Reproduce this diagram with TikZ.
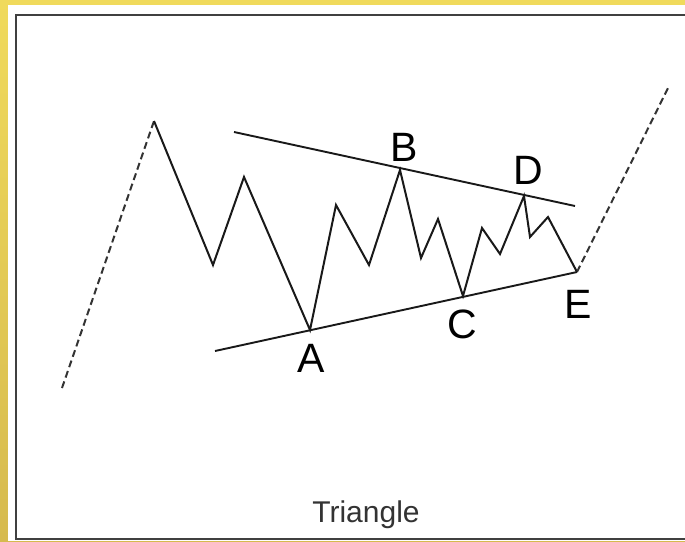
\documentclass[tikz,border=0pt]{standalone}
\usepackage{fontspec}
\setmainfont{Liberation Sans}
\usepackage{xcolor}
\usetikzlibrary{positioning}

\definecolor{goldbg}{RGB}{214,186,78}
\definecolor{goldlight}{RGB}{240,218,92}
\definecolor{framegray}{RGB}{64,64,64}

\begin{document}
\begin{tikzpicture}[x=1pt, y=-1pt,
  wave/.style={line width=2pt, draw=black!90, line join=miter},
  trend/.style={line width=1.9pt, draw=black!90},
  breakout/.style={line width=2pt, draw=black!80, dash pattern=on 7pt off 4pt},
  ptlabel/.style={font=\fontsize{41}{42}\selectfont, text=black, inner sep=0pt},
  caption/.style={font=\fontsize{30}{31}\selectfont, text=black!80, inner sep=0pt}
]
\useasboundingbox (0,0) rectangle (685,541);

% golden background and white panel
\fill[top color=goldlight, bottom color=goldbg] (0,0) rectangle (685,541);
\fill[white] (8,5) rectangle (685,541);
\draw[framegray, line width=2.4pt] (686,15) -- (16,15) -- (16,539) -- (686,539);

% wave points
\coordinate (start) at (62,388);
\coordinate (top) at (154,121);
\coordinate (w1) at (213,265);
\coordinate (w2) at (244,177);
\coordinate (ptA) at (310,330);
\coordinate (w3) at (336,205);
\coordinate (w4) at (369,265);
\coordinate (ptB) at (400,170);
\coordinate (w5) at (421,258);
\coordinate (w6) at (438,219);
\coordinate (ptC) at (463,296);
\coordinate (w7) at (482,228);
\coordinate (w8) at (500,254);
\coordinate (ptD) at (524,196);
\coordinate (w9) at (530,237);
\coordinate (w10) at (548,217);
\coordinate (ptE) at (577,272);
\coordinate (finish) at (669,86);

% trend line ends
\coordinate (upL) at (234,132);
\coordinate (upR) at (575,206);
\coordinate (loL) at (215,351);

\draw[breakout] (start) -- (top);
\draw[wave] (top) -- (w1) -- (w2) -- (ptA) -- (w3) -- (w4) -- (ptB) -- (w5) -- (w6)
  -- (ptC) -- (w7) -- (w8) -- (ptD) -- (w9) -- (w10) -- (ptE);
\draw[breakout] (ptE) -- (finish);

\draw[trend] (upL) -- (upR);
\draw[trend] (loL) -- (ptE);

\node[ptlabel] (lblA) at (311,358) {A};
\node[ptlabel] (lblB) at (404,147) {B};
\node[ptlabel] (lblC) at (462,324) {C};
\node[ptlabel] (lblD) at (528,170) {D};
\node[ptlabel] (lblE) at (578,304) {E};

\node[caption, anchor=base] (title) at (366,522) {Triangle};

\end{tikzpicture}
\end{document}
